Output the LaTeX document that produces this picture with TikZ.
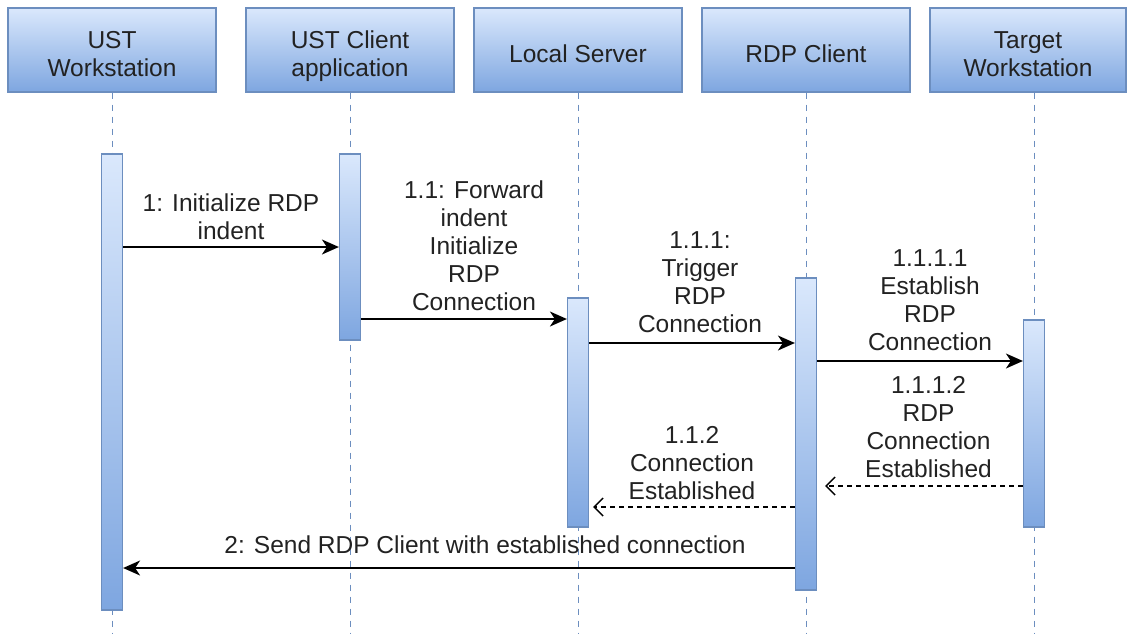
\documentclass[tikz,border=0pt]{standalone}
\usepackage{fontspec}
\setmainfont{Liberation Sans}
\usetikzlibrary{arrows.meta}
\definecolor{bstroke}{HTML}{6C8EBF}
\definecolor{btop}{HTML}{DAE8FC}
\definecolor{bbot}{HTML}{7EA6E0}
\definecolor{txt}{HTML}{222222}
\newcommand\hdtext[1]{\raisebox{-7pt}[\height][\depth]{\begin{tabular}{@{}c@{}}#1\end{tabular}}}
\begin{document}
\begin{tikzpicture}[x=1pt,y=-1pt,
 hdr/.style={draw=bstroke, line width=1.2pt, top color=btop, bottom color=bbot, minimum width=208pt, minimum height=84pt, align=center, text=txt, font=\fontsize{24.5}{28}\selectfont, inner sep=0pt},
 act/.style={draw=bstroke, line width=1.2pt, top color=btop, bottom color=bbot, minimum width=21pt, inner sep=0pt},
 life/.style={draw=bstroke, dash pattern=on 6pt off 6pt, line width=1pt},
 msg/.style={line width=1.8pt, -{Stealth[length=17pt,width=15pt,inset=5pt]}},
 ret/.style={line width=1.2pt, dash pattern=on 5pt off 4pt, -{Straight Barb[length=9pt,width=18pt,line width=1.4pt]}},
 lbl/.style={align=center, text=txt, font=\fontsize{24.5}{28}\selectfont, inner sep=0pt}]
\useasboundingbox (0,0) rectangle (1132,633);
% headers
\node[hdr] (h1) at (112,50) {\hdtext{UST\\Workstation}};
\node[hdr] (h2) at (350,50) {\hdtext{UST Client\\application}};
\node[hdr] (h3) at (578,50) {\hdtext{Local Server}};
\node[hdr] (h4) at (806,50) {\hdtext{RDP Client}};
\node[hdr, minimum width=196pt] (h5) at (1028,50) {\hdtext{Target\\Workstation}};
% lifeline ends
\coordinate (e1) at (112,633);
\coordinate (e2) at (350,633);
\coordinate (e3) at (578,633);
\coordinate (e4) at (806,633);
\coordinate (e5) at (1034,633);
\draw[life] (h1.south) -- (e1);
\draw[life] (h2.south) -- (e2);
\draw[life] (h3.south) -- (e3);
\draw[life] (h4.south) -- (e4);
\draw[life] (h5.south -| e5) -- (e5);
% activations
\node[act, minimum height=456pt] (a1) at (112,382) {};
\node[act, minimum height=186pt] (a2) at (350,247) {};
\node[act, minimum height=229pt] (a3) at (578,412.5) {};
\node[act, minimum height=312pt] (a4) at (806,434) {};
\node[act, minimum height=207pt] (a5) at (1034,423.5) {};
% message levels
\coordinate (y1) at (0,247);
\coordinate (y2) at (0,319);
\coordinate (y3) at (0,343);
\coordinate (y4) at (0,361);
\coordinate (y5) at (0,486);
\coordinate (y6) at (0,507);
\coordinate (y7) at (0,568);
\draw[msg] (a1.east |- y1) -- (a2.west |- y1);
\draw[msg] (a2.east |- y2) -- (a3.west |- y2);
\draw[msg] (a3.east |- y3) -- (a4.west |- y3);
\draw[msg] (a4.east |- y4) -- (a5.west |- y4);
\draw[ret, shorten >=8pt] (a5.west |- y5) -- (a4.east |- y5);
\draw[ret, shorten >=4pt] (a4.west |- y6) -- (a3.east |- y6);
\draw[msg] (a4.west |- y7) -- (a1.east |- y7);
% labels
\node[lbl] (l1) at (231,216.5) {1: Initialize RDP\\indent};
\node[lbl] (l2) at (474,246) {1.1: Forward\\indent\\Initialize\\RDP\\Connection};
\node[lbl] (l3) at (700,282.5) {1.1.1:\\Trigger\\RDP\\Connection};
\node[lbl] (l4) at (930,300.5) {1.1.1.1\\Establish\\RDP\\Connection};
\node[lbl] (l5) at (928.5,427) {1.1.1.2\\RDP\\Connection\\Established};
\node[lbl] (l6) at (692,463) {1.1.2\\Connection\\Established};
\node[lbl] (l7) at (485,545) {2: Send RDP Client with established connection};
\end{tikzpicture}
\end{document}
